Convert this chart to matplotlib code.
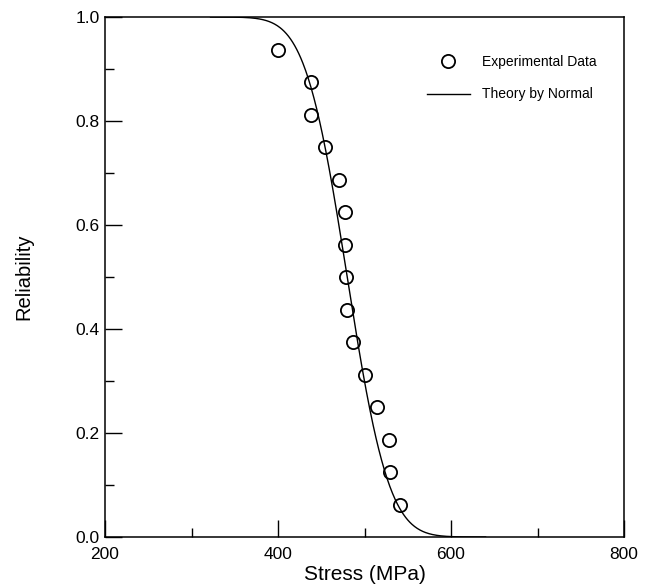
import math
import numpy as np
import matplotlib
matplotlib.use("Agg")
import matplotlib.pyplot as plt

plt.rcParams['font.family'] = ['Liberation Sans', 'DejaVu Sans']

stress = [400, 438, 438, 454, 470, 477, 477, 479, 480, 487, 500, 514, 528, 530, 541]
reliability = [0.9375, 0.875, 0.8125, 0.75, 0.6875, 0.625, 0.5625, 0.5,
               0.4375, 0.375, 0.3125, 0.25, 0.1875, 0.125, 0.0625]

# normal model parameters for the theory curve
mu = 480.0
sigma = 38.0
curve_start, curve_end = 322, 640


def main():
    x_fit = np.linspace(curve_start, curve_end, 400)
    y_fit = np.array([0.5 * math.erfc((x - mu) / (sigma * math.sqrt(2))) for x in x_fit])

    fig = plt.figure(figsize=(6.57, 5.87), dpi=100)
    ax = fig.add_axes([105 / 657, 1 - 537 / 587, 519 / 657, 520 / 587])

    ax.plot(stress, reliability, 'o', ms=9.5, mfc='none', mec='black', mew=1.3,
            label='Experimental Data')
    ax.plot(x_fit, y_fit, '-', color='black', lw=1.0, label='Theory by Normal')

    ax.set_xlim(200, 800)
    ax.set_ylim(0, 1)
    ax.set_xticks([200, 400, 600, 800])
    ax.set_xticks([300, 500, 700], minor=True)
    ax.set_yticks([0, 0.2, 0.4, 0.6, 0.8, 1.0])
    ax.set_yticks([0.1, 0.3, 0.5, 0.7, 0.9], minor=True)
    ax.set_yticklabels(['0.0', '0.2', '0.4', '0.6', '0.8', '1.0'])
    ax.tick_params(which='major', direction='in', length=12, width=1.0, labelsize=12.5, pad=4)
    ax.tick_params(axis='x', which='major', pad=7)
    ax.tick_params(which='minor', direction='in', length=6.5, width=1.0)
    for s in ax.spines.values():
        s.set_linewidth(1.1)

    ax.set_xlabel('Stress (MPa)', fontsize=15, labelpad=2)
    ax.set_ylabel('Reliability', fontsize=14.5, labelpad=30)

    ax.legend(loc='upper left', bbox_to_anchor=(0.62, 0.927), frameon=False,
              fontsize=10, handlelength=3.1, handletextpad=0.9, labelspacing=1.33,
              borderpad=0, borderaxespad=0)

    fig.savefig('out.png', dpi=100)


if __name__ == "__main__":
    main()
